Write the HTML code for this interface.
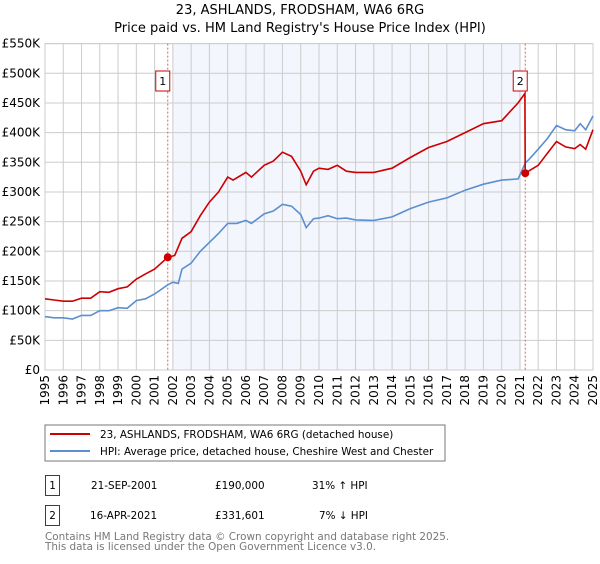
<!DOCTYPE html>
<html><head><meta charset="utf-8"><style>
body{margin:0;background:#fff;font-family:"DejaVu Sans","Liberation Sans",sans-serif;}
svg text{font-family:"DejaVu Sans","Liberation Sans",sans-serif;}
</style></head><body>
<svg id="chart" width="600" height="560" xmlns="http://www.w3.org/2000/svg">
<text x="300" y="14" text-anchor="middle" font-size="13">23, ASHLANDS, FRODSHAM, WA6 6RG</text>
<text x="300" y="32" text-anchor="middle" font-size="13">Price paid vs. HM Land Registry's House Price Index (HPI)</text>
<g id="plot"></g>
<rect x="45" y="425" width="400" height="36" fill="#fff" stroke="#777"/>
<line x1="50" y1="434" x2="90" y2="434" stroke="#cc0000" stroke-width="2"/>
<text x="100" y="438" font-size="10.4">23, ASHLANDS, FRODSHAM, WA6 6RG (detached house)</text>
<line x1="50" y1="451" x2="90" y2="451" stroke="#5b8fd0" stroke-width="2"/>
<text x="100" y="455" font-size="10.4">HPI: Average price, detached house, Cheshire West and Chester</text>
<rect x="45.5" y="475.5" width="14" height="20" fill="none" stroke="#cc0000"/>
<text x="52.5" y="489" text-anchor="middle" font-size="10.4">1</text>
<text x="91" y="489" font-size="10.4">21-SEP-2001</text>
<text x="215" y="489" font-size="10.4">£190,000</text>
<text x="312" y="489" font-size="10.4">31% ↑ HPI</text>
<rect x="45.5" y="505.5" width="14" height="20" fill="none" stroke="#cc0000"/>
<text x="52.5" y="519" text-anchor="middle" font-size="10.4">2</text>
<text x="90" y="519" font-size="10.4">16-APR-2021</text>
<text x="215" y="519" font-size="10.4">£331,601</text>
<text x="319" y="519" font-size="10.4">7% ↓ HPI</text>
<text x="45" y="540" font-size="10.4" fill="#777">Contains HM Land Registry data © Crown copyright and database right 2025.</text>
<text x="45" y="550" font-size="10.4" fill="#777">This data is licensed under the Open Government Licence v3.0.</text>
</svg>
<script>
const yTicks=[0,50000,100000,150000,200000,250000,300000,350000,400000,450000,500000,550000];
const yLabels=["£0","£50K","£100K","£150K","£200K","£250K","£300K","£350K","£400K","£450K","£500K","£550K"];
const xYears=[1995,1996,1997,1998,1999,2000,2001,2002,2003,2004,2005,2006,2007,2008,2009,2010,2011,2012,2013,2014,2015,2016,2017,2018,2019,2020,2021,2022,2023,2024,2025];
const hpiT=[1995,1995.5,1996,1996.5,1997,1997.5,1998,1998.5,1999,1999.5,2000,2000.5,2001,2001.7,2002,2002.3,2002.5,2003,2003.5,2004,2004.5,2005,2005.5,2006,2006.3,2007,2007.5,2008,2008.5,2009,2009.3,2009.7,2010,2010.5,2011,2011.5,2012,2013,2014,2015,2016,2017,2018,2019,2020,2020.9,2021.3,2021.5,2022,2022.5,2023,2023.5,2024,2024.3,2024.6,2025];
const hpiV=[90000,88000,88000,86000,92000,92000,100000,100000,105000,104000,117000,120000,128000,143000,148000,146000,170000,180000,200000,215000,230000,247000,247000,252000,247000,263000,268000,279000,276000,262000,240000,255000,256000,260000,255000,256000,253000,252000,258000,272000,283000,290000,303000,313000,320000,322000,349000,355000,372000,390000,412000,405000,403000,415000,405000,428000];
const priceT=[1995,1995.5,1996,1996.5,1997,1997.5,1998,1998.5,1999,1999.5,2000,2000.5,2001,2001.72,2002.1,2002.5,2003,2003.5,2004,2004.5,2005,2005.3,2006,2006.3,2007,2007.5,2008,2008.5,2009,2009.3,2009.7,2010,2010.5,2011,2011.5,2012,2013,2014,2015,2016,2017,2018,2019,2020,2020.9,2021.27,2021.29,2022,2022.5,2023,2023.5,2024,2024.3,2024.6,2025];
const priceV=[120000,118000,116000,116000,121000,121000,132000,131000,137000,140000,153000,162000,170000,190000,193000,222000,233000,260000,283000,300000,325000,320000,333000,325000,345000,352000,367000,360000,335000,312000,335000,340000,338000,345000,335000,333000,333000,340000,358000,375000,385000,400000,415000,420000,450000,466000,331601,345000,365000,385000,376000,373000,380000,372000,405000];
const sales=[{n:"1",t:2001.72,v:190000},{n:"2",t:2021.29,v:331601}];
const X0=45,X1=593,Y0=370,Y1=43.6;
const xs=t=>X0+(t-1995)/30*(X1-X0);
const ys=v=>Y0-v/550000*(Y0-Y1);
const NS="http://www.w3.org/2000/svg";
const g=document.getElementById('plot');
function mk(tag,attrs){const e=document.createElementNS(NS,tag);for(const k in attrs)e.setAttribute(k,attrs[k]);g.appendChild(e);return e;}
let e=mk('rect',{x:xs(2002),y:Y1,width:xs(2021.07)-xs(2002),height:Y0-Y1,fill:'#f3f6fd'});


yTicks.forEach((v,i)=>{
 let l=mk('line',{x1:X0,x2:X1,y1:ys(v),y2:ys(v),stroke:'#ccc'});
 
 
 let t=mk('text',{x:40,y:ys(v)+4,'text-anchor':'end','font-size':'12'});
 t.textContent=yLabels[i];
 
 
});
xYears.forEach(yr=>{
 let l=mk('line',{x1:xs(yr),x2:xs(yr),y1:Y1,y2:Y0,stroke:'#ccc'});
 
 
 let t=mk('text',{x:0,y:0,'font-size':'12','text-anchor':'end',transform:`translate(${xs(yr)+4},375) rotate(-90)`});
 t.textContent=yr;
 
 
});
e=mk('rect',{x:X0,y:Y1,width:X1-X0,height:Y0-Y1,fill:'none',stroke:'#ccc'});


sales.forEach(s=>{
 let l=mk('line',{x1:xs(s.t),x2:xs(s.t),y1:Y1,y2:Y0,stroke:'#e06060','stroke-dasharray':'2,2'});
 
 
});
function path(T,V,col,name){
 const d=T.map((t,i)=>(i?'L':'M')+xs(t).toFixed(1)+','+ys(V[i]).toFixed(1)).join('');
 let p=mk('path',{d:d,fill:'none',stroke:col,'stroke-width':'1.6'});
 
 
}
path(hpiT,hpiV,'#5b8fd0','hpi-line');
path(priceT,priceV,'#cc0000','price-line');
sales.forEach(s=>{
 let c=mk('circle',{cx:xs(s.t),cy:ys(s.v),r:4,fill:'#cc0000'});
 
 
 let b=mk('rect',{x:xs(s.t)-12,y:71,width:14,height:20,fill:'#fff',stroke:'#cc0000'});
 
 
 let t=mk('text',{x:xs(s.t)-5,y:85,'text-anchor':'middle','font-size':'11'});
 t.textContent=s.n;
 
 
});
</script>
</body></html>
